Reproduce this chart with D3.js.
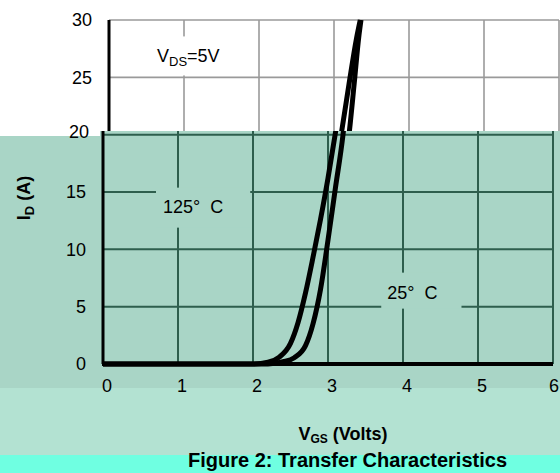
<!DOCTYPE html>
<html>
<head>
<meta charset="utf-8">
<script src="https://cdn.jsdelivr.net/npm/d3@7"></script>
<style>
  body { margin: 0; background: #fff; }
  svg { display: block; font-family: Arial, "Liberation Sans", sans-serif; }
  text { white-space: pre; }
</style>
</head>
<body>
<svg id="chart" width="560" height="473"></svg>
<script>
// data
var xTicks = [0, 1, 2, 3, 4, 5, 6];
var yTicks = [0, 5, 10, 15, 20, 25, 30];
var vgs125 = [0, 1.5, 2.0, 2.2, 2.35, 2.5, 2.6, 2.7, 2.8, 2.9, 3.0, 3.1, 3.2, 3.3, 3.35];
var id125  = [0, 0, 0, 0.15, 0.6, 1.8, 3.6, 6.2, 9.3, 12.6, 16.2, 20.2, 24.4, 28.4, 30];
var vgs25  = [0, 1.5, 2.2, 2.4, 2.55, 2.7, 2.8, 2.9, 3.0, 3.1, 3.2, 3.27, 3.33, 3.36];
var id25   = [0, 0, 0, 0.2, 0.55, 1.6, 3.5, 6.5, 10.8, 15.4, 20.0, 24.5, 28.5, 30];

var svg = d3.select('#chart');
var x = d3.scaleLinear().domain([0, 6]).range([103, 553]);
var y = d3.scaleLinear().domain([0, 30]).range([364, 20]);
var SHIFT = 6; // the upper strip of the scan sits a few px to the right

var curves = [
  d3.zip(vgs125, id125),
  d3.zip(vgs25, id25)
];
var line = d3.line()
  .x(function(d) { return x(d[0]); })
  .y(function(d) { return y(d[1]); })
  .curve(d3.curveMonotoneX);

// background bands
svg.append('rect').attr('x', 0).attr('y', 0).attr('width', 560).attr('height', 473).attr('fill', '#fff');
svg.append('rect').attr('x', 0).attr('y', 136).attr('width', 100).attr('height', 252).attr('fill', '#a9d5c6');
svg.append('rect').attr('x', 100).attr('y', 131).attr('width', 460).attr('height', 257).attr('fill', '#a9d5c6');
svg.append('rect').attr('x', 0).attr('y', 388).attr('width', 560).attr('height', 67).attr('fill', '#b3e2d2');
svg.append('rect').attr('x', 0).attr('y', 455).attr('width', 560).attr('height', 18).attr('fill', '#6fffe1');

var defs = svg.append('defs');
defs.append('clipPath').attr('id', 'clipTop')
  .append('rect').attr('x', 0).attr('y', 0).attr('width', 560).attr('height', 131);
defs.append('clipPath').attr('id', 'clipBot')
  .append('rect').attr('x', 0).attr('y', 131).attr('width', 560).attr('height', 257);

function drawPanel(g, pal, notes) {
  // grid
  g.selectAll('line.hgrid').data(yTicks.slice(1)).enter()
    .append('line').attr('class', 'hgrid')
    .attr('x1', x(0)).attr('x2', x(6))
    .attr('y1', function(d) { return y(d); }).attr('y2', function(d) { return y(d); })
    .attr('stroke', pal.grid).attr('stroke-width', pal.gw);
  g.selectAll('line.vgrid').data(xTicks.slice(1)).enter()
    .append('line').attr('class', 'vgrid')
    .attr('x1', function(d) { return x(d); }).attr('x2', function(d) { return x(d); })
    .attr('y1', y(30)).attr('y2', y(0))
    .attr('stroke', pal.grid).attr('stroke-width', pal.gw);

  // annotations, boxed so they break the grid
  notes.forEach(function(n) {
    var box = g.append('rect').attr('fill', pal.bg);
    var txt = g.append('text').attr('x', x(n.vx)).attr('y', y(n.vy))
      .attr('font-size', 18).attr('fill', '#000');
    if (n.sub) {
      txt.append('tspan').text(n.t[0]);
      txt.append('tspan').attr('font-size', 13).attr('dy', 4).text(n.sub);
      txt.append('tspan').attr('dy', -4).text(n.t[1]);
    } else {
      txt.text(n.t);
    }
    var b = txt.node().getBBox();
    box.attr('x', b.x - n.pad[0]).attr('y', b.y - n.pad[2])
      .attr('width', b.width + n.pad[0] + n.pad[1]).attr('height', b.height + n.pad[2] + n.pad[3]);
  });

  // axes
  g.append('line').attr('x1', x(0)).attr('x2', x(0)).attr('y1', y(30)).attr('y2', y(0))
    .attr('stroke', '#000').attr('stroke-width', 3);
  g.append('line').attr('x1', x(0) - 1).attr('x2', x(6)).attr('y1', y(0)).attr('y2', y(0))
    .attr('stroke', '#000').attr('stroke-width', 4);

  // curves
  g.selectAll('path.curve').data(curves).enter()
    .append('path').attr('class', 'curve')
    .attr('d', line)
    .attr('fill', 'none').attr('stroke', '#000').attr('stroke-width', 5)
    .attr('stroke-linejoin', 'round');
}

var topPanel = svg.append('g').attr('clip-path', 'url(#clipTop)')
  .append('g').attr('transform', 'translate(' + SHIFT + ',0)');
drawPanel(topPanel, {grid: '#9a9a9a', gw: 1.6, bg: '#fff'}, [
  {t: ['V', '=5V'], sub: 'DS', vx: 0.64, vy: 26.3, pad: [7, 20, 10, 6]}
]);

var botPanel = svg.append('g').attr('clip-path', 'url(#clipBot)').append('g');
drawPanel(botPanel, {grid: '#2e5e4d', gw: 2, bg: '#a9d5c6'}, [
  {t: '125°  C', vx: 0.8, vy: 13.2, pad: [7, 27, 9, 11]},
  {t: '25°  C', vx: 3.79, vy: 5.7, pad: [6, 24, 10, 6]}
]);

// y tick labels (upper ones follow the shifted strip)
svg.selectAll('text.ytick').data(yTicks).enter()
  .append('text').attr('class', 'ytick')
  .attr('x', function(d) { return x(0) - 17 + (d > 20 ? SHIFT : d === 20 ? 3 : 0); })
  .attr('y', function(d) { return y(d) - (d === 20 ? 3 : 0); })
  .attr('dy', '0.36em').attr('text-anchor', 'end')
  .attr('font-size', 18).attr('fill', '#000')
  .text(function(d) { return d; });

// x tick labels
svg.selectAll('text.xtick').data(xTicks).enter()
  .append('text').attr('class', 'xtick')
  .attr('x', function(d) { return x(d) + (d === 6 ? 1 : 4); }).attr('y', 392)
  .attr('text-anchor', 'middle').attr('font-size', 18).attr('fill', '#000')
  .text(function(d) { return d; });

// axis titles
var xt = svg.append('text').attr('x', 343).attr('y', 440).attr('text-anchor', 'middle')
  .attr('font-size', 18).attr('font-weight', 'bold').attr('fill', '#000');
xt.append('tspan').text('V');
xt.append('tspan').attr('font-size', 12).attr('dy', 3).text('GS');
xt.append('tspan').attr('dy', -3).text(' (Volts)');

var yt = svg.append('text').attr('transform', 'translate(30,198) rotate(-90)').attr('text-anchor', 'middle')
  .attr('font-size', 18).attr('font-weight', 'bold').attr('fill', '#000');
yt.append('tspan').text('I');
yt.append('tspan').attr('font-size', 13).attr('dy', 4).text('D');
yt.append('tspan').attr('dy', -4).text(' (A)');

// caption
svg.append('text').attr('x', 188).attr('y', 467)
  .attr('font-size', 20).attr('font-weight', 'bold').attr('fill', '#000')
  .text('Figure 2: Transfer Characteristics');
</script>
</body>
</html>
